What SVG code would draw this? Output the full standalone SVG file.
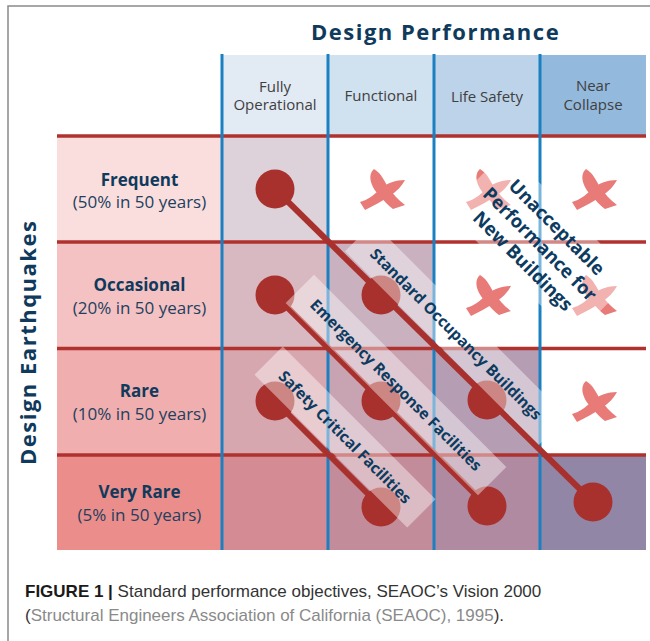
<svg xmlns="http://www.w3.org/2000/svg" width="650" height="641" viewBox="0 0 650 641">
  <style>
    .title { font-family: "Open Sans", "Noto Sans", "DejaVu Sans", sans-serif; font-weight: 700; font-size: 22px; letter-spacing: 1.5px; fill: #0f3a5c; }
    .colhead { font-family: "Open Sans", "Noto Sans", sans-serif; font-size: 15px; fill: #404040; text-anchor: middle; }
    .rowhead { font-family: "Open Sans", "Noto Sans", sans-serif; font-weight: 700; font-size: 17px; fill: #0f3a5c; text-anchor: middle; }
    .rowsub { font-family: "Open Sans", "Noto Sans", sans-serif; font-size: 17px; fill: #22405e; text-anchor: middle; }
    .diag { font-family: "Open Sans", "Noto Sans", sans-serif; font-weight: 700; font-size: 15.5px; fill: #0d3b5f; text-anchor: middle; }
    .unacc { font-family: "Open Sans", "Noto Sans", sans-serif; font-weight: 700; font-size: 18.5px; fill: #0d3b5f; text-anchor: middle; }
    .band { fill: #ffffff; fill-opacity: 0.42; }
    .redline { stroke: #b0322f; stroke-width: 3.4; fill: none; }
    .blueline { stroke: #1b80c2; stroke-width: 3; fill: none; }
    .objective { stroke: #a8312e; stroke-width: 6; fill: none; }
    .dot { fill: #a8312e; }
    .xmark { fill: #e87a78; }
    .cap { font-family: "Liberation Sans", Arial, sans-serif; font-size: 17px; fill: #333333; }
  </style>
  <defs>
    <!-- brush-stroke cross, centred on 0,0 -->
    <g id="cross">
      <path d="M -9,-22 C -16,-16 -12,-4 -4,4 C 1,10 6,15 10,18 L 22,14 C 15,9 10,3 5,-4 C 1,-10 -1,-17 -9,-22 Z"/>
      <path d="M 22,-11 C 13,-11 4,-8 -3,-2 C -9,4 -15,9 -23,11 L -18,19 C -10,15 0,10 8,4 C 14,0 18,-4 22,-11 Z"/>
    </g>
  </defs>

  <rect width="650" height="641" fill="#ffffff"/>

  <!-- outer frame -->
  <g id="frame">
    <polyline points="8,641 8,6 650,6" fill="none" stroke="#8a8a8a" stroke-width="1.5"/>
  </g>

  <!-- axis titles -->
  <g id="axis-titles">
    <text class="title" x="311" y="40">Design Performance</text>
    <text class="title" transform="translate(36,465) rotate(-90)">Design Earthquakes</text>
  </g>

  <!-- performance level headers -->
  <g id="col-fully-operational">
    <rect x="222" y="55" width="106" height="81" fill="#e2eaf4"/>
    <text class="colhead" x="275" y="91.5">Fully</text>
    <text class="colhead" x="275" y="110">Operational</text>
  </g>
  <g id="col-functional">
    <rect x="328" y="55" width="106" height="81" fill="#d0e1ef"/>
    <text class="colhead" x="381" y="101">Functional</text>
  </g>
  <g id="col-life-safety">
    <rect x="434" y="55" width="106" height="81" fill="#bcd3e9"/>
    <text class="colhead" x="487" y="101.5">Life Safety</text>
  </g>
  <g id="col-near-collapse">
    <rect x="540" y="55" width="106" height="81" fill="#93b9dc"/>
    <text class="colhead" x="593" y="91">Near</text>
    <text class="colhead" x="593" y="110">Collapse</text>
  </g>

  <!-- earthquake level rows -->
  <g id="row-frequent">
    <rect x="57" y="136" width="165" height="106" fill="#f9dedd"/>
    <text class="rowhead" x="139.5" y="185.5">Frequent</text>
    <text class="rowsub" x="139.5" y="208">(50% in 50 years)</text>
  </g>
  <g id="row-occasional">
    <rect x="57" y="242" width="165" height="106.5" fill="#f5c2c3"/>
    <text class="rowhead" x="139.5" y="291">Occasional</text>
    <text class="rowsub" x="139.5" y="313.5">(20% in 50 years)</text>
  </g>
  <g id="row-rare">
    <rect x="57" y="348.5" width="165" height="106.5" fill="#f0aeae"/>
    <text class="rowhead" x="139.5" y="397">Rare</text>
    <text class="rowsub" x="139.5" y="419.5">(10% in 50 years)</text>
  </g>
  <g id="row-very-rare">
    <rect x="57" y="455" width="165" height="95" fill="#eb8d8b"/>
    <text class="rowhead" x="139.5" y="498">Very Rare</text>
    <text class="rowsub" x="139.5" y="520.5">(5% in 50 years)</text>
  </g>

  <!-- matrix cells -->
  <g id="cells">
    <rect x="222" y="136" width="106" height="106" fill="#ddd2da"/>
    <rect x="222" y="242" width="106" height="106.5" fill="#d9b9c1"/>
    <rect x="222" y="348.5" width="106" height="106.5" fill="#d7a7af"/>
    <rect x="222" y="455" width="106" height="95" fill="#d48b93"/>
    <rect x="328" y="242" width="106" height="106.5" fill="#c9b1c0"/>
    <rect x="328" y="348.5" width="106" height="106.5" fill="#c8a3b1"/>
    <rect x="328" y="455" width="106" height="95" fill="#c38c9a"/>
    <rect x="434" y="348.5" width="106" height="106.5" fill="#b59eb4"/>
    <rect x="434" y="455" width="106" height="95" fill="#b08aa1"/>
    <rect x="540" y="455" width="106" height="95" fill="#9186a6"/>
  </g>

  <!-- grid lines -->
  <g id="grid">
    <line class="redline" x1="57" y1="136" x2="646" y2="136"/>
    <line class="redline" x1="57" y1="242" x2="646" y2="242"/>
    <line class="redline" x1="57" y1="348.5" x2="646" y2="348.5"/>
    <line class="redline" x1="57" y1="455" x2="646" y2="455"/>
    <line class="blueline" x1="222" y1="54" x2="222" y2="550"/>
    <line class="blueline" x1="328" y1="54" x2="328" y2="550"/>
    <line class="blueline" x1="434" y1="54" x2="434" y2="550"/>
    <line class="blueline" x1="540" y1="54" x2="540" y2="550"/>
  </g>

  <!-- unacceptable combinations -->
  <g id="unacceptable-marks" class="xmark">
    <use href="#cross" transform="translate(383,191)"/>
    <use href="#cross" transform="translate(489,191)"/>
    <use href="#cross" transform="translate(595,191)"/>
    <use href="#cross" transform="translate(489,297)"/>
    <use href="#cross" transform="translate(595,297)"/>
    <use href="#cross" transform="translate(595,403)"/>
  </g>

  <!-- objective lines -->
  <g id="connectors">
    <line class="objective" x1="275" y1="189" x2="593" y2="502"/>
    <line class="objective" x1="275" y1="295" x2="487" y2="506"/>
    <line class="objective" x1="275" y1="401" x2="381" y2="507"/>
  </g>

  <!-- performance targets -->
  <g id="node-standard-occupancy" class="dot">
    <circle cx="275" cy="189" r="19.5"/>
    <circle cx="381" cy="295" r="19.5"/>
    <circle cx="487" cy="400" r="19.5"/>
    <circle cx="593" cy="502" r="19.5"/>
  </g>
  <g id="node-emergency-response" class="dot">
    <circle cx="275" cy="295" r="19.5"/>
    <circle cx="381" cy="401" r="19.5"/>
    <circle cx="487" cy="506" r="19.5"/>
  </g>
  <g id="node-safety-critical" class="dot">
    <circle cx="275" cy="401" r="19.5"/>
    <circle cx="381" cy="507" r="19.5"/>
  </g>

  <!-- objective labels -->
  <g id="label-standard-occupancy" transform="translate(456,334) rotate(45)">
    <rect class="band" x="-137" y="-20" width="274" height="40"/>
    <text class="diag" x="0" y="5.5">Standard Occupancy Buildings</text>
  </g>
  <g id="label-emergency-response" transform="translate(396,385) rotate(45)">
    <rect class="band" x="-136" y="-20" width="272" height="40"/>
    <text class="diag" x="0" y="5.5">Emergency Response Facilities</text>
  </g>
  <g id="label-safety-critical" transform="translate(345,437) rotate(45)">
    <rect class="band" x="-108" y="-20" width="216" height="40"/>
    <text class="diag" x="0" y="5.5">Safety Critical Facilities</text>
  </g>
  <g id="label-unacceptable" transform="translate(540,244) rotate(45)">
    <rect class="band" x="-90" y="-43" width="180" height="86"/>
    <text class="unacc" x="0" y="-17.4">Unacceptable</text>
    <text class="unacc" x="0" y="6.6">Performance for</text>
    <text class="unacc" x="0" y="30.6">New Buildings</text>
  </g>

  <!-- caption -->
  <g id="caption">
    <text class="cap" x="25" y="597"><tspan font-weight="700" fill="#1a1a1a">FIGURE 1 |</tspan> Standard performance objectives, SEAOC’s Vision 2000</text>
    <text class="cap" x="25" y="621">(<tspan fill="#8a8a8a">Structural Engineers Association of California (SEAOC), 1995</tspan>).</text>
  </g>
</svg>
